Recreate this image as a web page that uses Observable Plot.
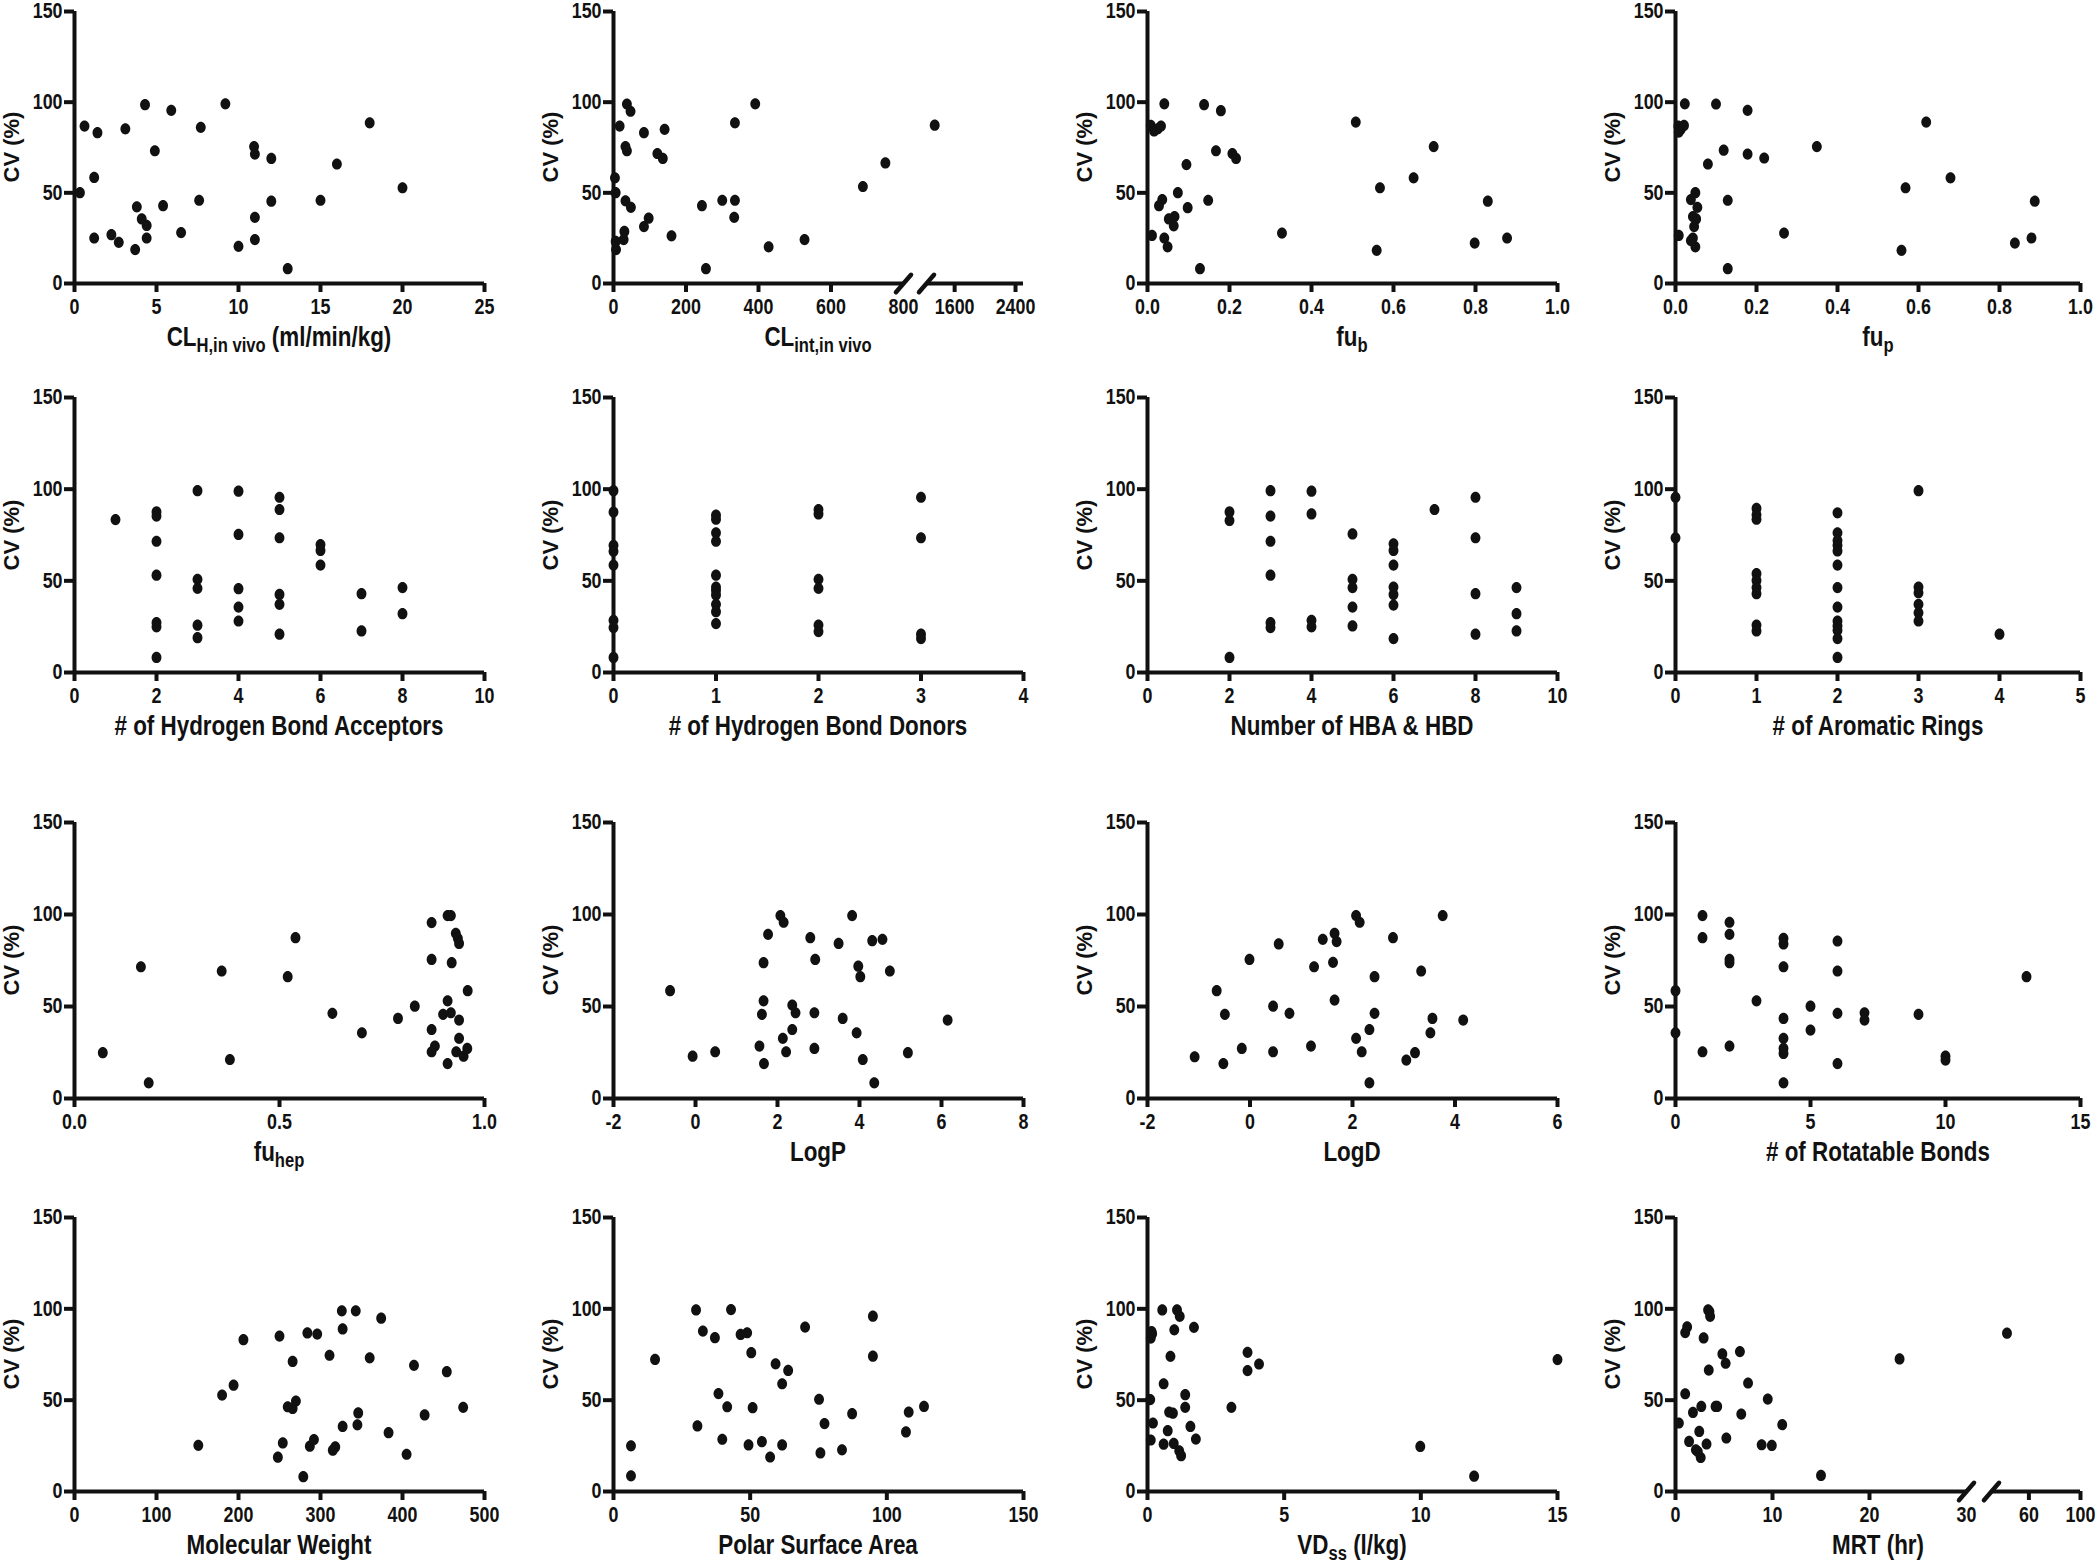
<!DOCTYPE html>
<html><head><meta charset="utf-8">
<script src="https://cdn.jsdelivr.net/npm/d3@7"></script>
<script src="https://cdn.jsdelivr.net/npm/@observablehq/plot@0.6"></script>
<style>
body{margin:0;background:#fff;}
#fig{position:relative;width:2100px;height:1563px;overflow:hidden;background:#fff;}
.panel{position:absolute;}
.panel svg{max-width:none !important;}
.xt{position:absolute;transform:translateX(-50%) scaleX(0.8);white-space:nowrap;font-family:"Liberation Sans",Arial,sans-serif;font-weight:bold;font-size:28px;line-height:30px;color:#111;}
.xt sub{font-size:0.74em;vertical-align:-0.3em;line-height:0;}
.yt{position:absolute;transform:translate(-50%,-50%) rotate(-90deg);white-space:nowrap;font-family:"Liberation Sans",Arial,sans-serif;font-weight:bold;font-size:22px;line-height:24px;color:#111;}
</style></head><body><div id="fig"></div>
<script>
// ---------- data ----------
const cvTicks = [0, 50, 100, 150];

const clH_x = [0.33,0.61,1.2,1.2,1.4,2.25,2.7,3.1,3.7,3.8,4.1,4.3,4.4,4.4,4.9,5.4,5.9,6.5,7.6,7.7,9.2,10.0,10.95,11.0,11.0,11.0,12.0,12.0,13.0,15.0,16.0,18.0,20.0];
const clH_cv = [50.1,86.8,58.5,25.1,83.2,26.9,22.7,85.3,18.7,42.3,35.6,98.6,32,25.1,73.2,42.9,95.5,28.1,45.9,86.1,99.1,20.5,75.5,71.4,36.5,24.2,69,45.4,8.2,45.9,65.9,88.6,52.8];

const clInt_x = [37,47,17,84,141,33,37,121,136,391,335,1338,750,688,4,6,33,48,97,84,160,30,28,6,7,244,300,335,333,428,527,255];
const clInt_cv = [99,95,86.8,83.2,85,75.5,73.2,71.7,69,99.1,88.6,87.3,66.5,53.5,58.3,50.1,45.6,42,36,31.4,26.3,28.7,24.2,23.2,18.7,42.9,45.9,45.9,36.5,20.2,24.2,8.2];

const fub_x = [0.041,0.138,0.179,0.008,0.016,0.025,0.033,0.508,0.167,0.207,0.216,0.698,0.095,0.649,0.567,0.074,0.036,0.028,0.148,0.098,0.83,0.066,0.052,0.064,0.328,0.011,0.041,0.049,0.877,0.798,0.559,0.128];
const fub_cv = [99.1,98.6,95.3,87.2,84.1,85.3,86.8,89,73.2,71.7,69,75.5,65.6,58.3,52.8,50.1,46.3,42.9,45.9,41.8,45.4,36.9,35.6,31.8,27.8,26.5,25.1,20.2,25.1,22.3,18.3,8.2];

const fup_x = [0.023,0.1,0.178,0.007,0.013,0.021,0.008,0.619,0.349,0.119,0.178,0.219,0.08,0.679,0.568,0.049,0.038,0.129,0.054,0.887,0.043,0.051,0.046,0.268,0.008,0.043,0.049,0.879,0.838,0.558,0.129,0.038];
const fup_cv = [99.1,99,95.5,86.8,85,87.2,83.5,89,75.5,73.5,71.4,69.2,65.9,58.3,52.8,50.1,46.3,45.9,42,45.4,36.9,35.6,31.4,27.8,26.5,25.1,20.2,25.1,22.3,18.3,8.2,23.7];

const hba_x = [1, 2,2,2,2,2,2,2, 3,3,3,3,3, 4,4,4,4,4, 5,5,5,5,5,5, 6,6,6, 7,7, 8,8];
const hba_cv = [83.4, 87.6,85.3,71.6,53.1,27.2,24.9,8.2, 99.2,50.8,45.9,25.8,19, 98.9,75.3,45.7,35.7,28.1, 95.6,88.9,73.5,42.6,37.2,20.9, 69.8,66.6,58.6, 43,22.7, 46.3,32.1];

const hbd_x = [0,0,0,0,0,0,0,0, 1,1,1,1,1,1,1,1,1,1,1, 2,2,2,2,2,2, 3,3,3,3];
const hbd_cv = [99.2,87.5,69.4,66.1,58.6,28.5,24.5,8.2, 85.8,83.6,76.2,71.6,53.1,46.6,44.8,42.3,37.2,33.2,26.7, 88.9,86.5,50.8,45.9,25.9,22.3, 95.6,73.5,20.9,18.5];

const hbah_x = [2,2,2, 3,3,3,3,3,3, 4,4,4,4, 5,5,5,5,5, 6,6,6,6,6,6,6, 7, 8,8,8,8, 9,9,9];
const hbah_cv = [87.6,82.9,8.2, 99.2,85.3,71.6,53.1,27.2,24.5, 98.9,86.5,28.5,24.9, 75.6,50.8,46.3,35.7,25.4, 70.2,66.6,58.6,46.6,42.6,36.8,18.5, 88.9, 95.6,73.5,43,20.9, 46.3,32.1,22.7];

const ring_x = [0,0, 1,1,1,1,1,1,1,1,1, 2,2,2,2,2,2,2,2,2,2,2,2,2, 3,3,3,3,3,3, 4];
const ring_cv = [95.6,73.5, 89.5,86,83.6,53.9,50.2,46.3,43,25.9,22.7, 87.1,76.2,72,69.4,66.3,58.6,46.3,35.7,28.1,25.4,23,18.5,8.2, 99.2,46.6,43.5,37.2,32.6,28.1, 20.9];

const fuhep_x = [0.069,0.162,0.181,0.359,0.379,0.52,0.539,0.629,0.701,0.789,0.83,0.871,0.871,0.871,0.871,0.879,0.91,0.918,0.91,0.899,0.918,0.92,0.91,0.93,0.935,0.938,0.938,0.938,0.931,0.949,0.958,0.959];
const fuhep_cv = [24.9,71.6,8.5,69.3,21.2,66.2,87.4,46.3,35.7,43.5,50.2,95.6,75.6,37.5,25.4,28.5,99.4,99.4,53.1,45.7,46.6,73.8,19,89.8,87.1,84.3,42.6,32.7,25.4,23,27.2,58.6];

const logp_x = [-0.62,-0.07,0.48,1.56,1.66,1.66,1.62,1.67,1.77,2.07,2.15,2.13,2.21,2.36,2.44,2.36,2.8,2.92,2.9,2.9,3.49,3.59,3.82,3.97,4.02,3.93,4.08,4.31,4.56,4.36,4.74,5.18,6.15];
const logp_cv = [58.6,23,25.4,28.5,73.8,53.1,45.7,19,89.2,99.4,95.8,32.7,25.4,50.8,46.6,37.5,87.4,75.6,46.6,27.2,84.3,43.5,99.4,71.9,66.2,35.7,21.2,85.8,86.5,8.5,69.3,24.9,42.6];

const logd_x = [-1.08,-0.65,-0.49,-0.52,-0.16,-0.01,0.45,0.45,0.56,0.77,1.19,1.25,1.42,1.62,1.65,1.69,1.65,2.07,2.14,2.07,2.18,2.33,2.33,2.43,2.43,2.79,3.05,3.22,3.34,3.52,3.56,3.76,4.16];
const logd_cv = [22.7,58.6,45.7,19,27.2,75.6,50.2,25.4,84,46.3,28.5,71.6,86.5,74,89.8,85.3,53.5,99.4,95.8,32.7,25.4,37.5,8.5,66.2,46.3,87.4,20.9,24.9,69.3,35.7,43.5,99.4,42.6];

const rot_x = [0,0,1,1,1,2,2,2,2,2,3,4,4,4,4,4,4,4,4,5,5,6,6,6,6,7,7,9,10,10,13];
const rot_cv = [58.6,35.7,99.4,87.4,25.4,95.8,89.2,75.6,73.8,28.5,53.1,87.1,84,71.6,43.5,32.7,27.2,24.5,8.5,50.2,37.2,85.6,69.3,46.3,19,46.6,42.6,45.7,23,20.9,66.2];

const mw_x = [151,180,194,206,248,250,254,260,266,266,270,279,284,296,287,292,311,315,318,326,327,327,343,346,345,360,374,383,405,414,427,454,474];
const mw_cv = [25.3,52.8,58.2,83.1,18.8,85.1,26.6,46.4,45.5,71.2,49.5,8.1,86.8,86.2,24.8,28.4,74.6,22.6,24.4,98.9,89,35.6,98.9,43,36.5,73.2,94.9,32.2,20.4,69.1,41.9,65.6,46.1];

const psa_x = [6.4,6.4,15.2,30.2,30.7,32.7,37.1,38.4,39.8,41.6,43,46.5,48.9,49.4,50.4,50.9,54.3,57.3,59.3,61.7,61.7,63.9,70.1,75.2,75.7,77.2,83.6,87.3,94.9,94.9,107,108,113.6];
const psa_cv = [25,8.6,72.3,99.4,35.9,87.8,84.2,53.6,28.6,46.4,99.6,86,86.9,25.5,76,45.9,27.3,18.9,69.9,59,25.5,66.3,90,50.5,21.1,37.2,22.8,42.6,96,74.1,32.6,43.5,46.6];

const vd_x = [0.12,0.1,0.17,0.12,0.2,0.54,0.59,0.59,0.74,0.84,0.79,0.93,0.98,0.96,1.08,1.18,1.16,1.23,1.38,1.38,1.57,1.7,1.77,3.07,3.66,3.66,4.08,9.98,11.95,15.0,0.15];
const vd_cv = [28.2,50.3,86.3,84,37.5,99.4,59,25.9,33.3,74,43.5,42.9,88.5,26.3,99.4,95.9,22.3,19.6,53,46.1,35.6,89.9,28.7,46.1,76.2,66.2,69.8,24.7,8.4,72.2,87.5];

const mrt_x = [0.35,1.0,1.0,1.2,1.4,1.8,2.1,2.45,2.66,2.6,2.3,3.2,2.9,3.36,3.5,3.57,3.43,4.13,4.3,4.83,5.17,5.24,6.64,6.78,7.48,8.88,9.51,9.93,11,15.0,23.1,43];
const mrt_cv = [37.5,53.5,87,90.1,27.4,43.3,22.8,32.9,46.6,18.6,21.9,26,84.1,99.4,98.5,95.9,66.5,46.6,46.6,75.3,70.2,29.3,76.6,42.4,59.4,25.6,50.6,25.2,36.6,8.8,72.6,86.7];

// tick labels
const ticks25 = [0,5,10,15,20,25];
const clIntTicks = [0,200,400,600,800,1600,2400];
const clIntTickMarks = [0,200,400,600,1600,2400];
const fracTicks = [0,0.2,0.4,0.6,0.8,1.0];
const ticks10 = [0,2,4,6,8,10];
const ticks4 = [0,1,2,3,4];
const ticks5 = [0,1,2,3,4,5];
const halfTicks = [0,0.5,1.0];
const logpTicks = [-2,0,2,4,6,8];
const logdTicks = [-2,0,2,4,6];
const ticks15 = [0,5,10,15];
const mwTicks = [0,100,200,300,400,500];
const psaTicks = [0,50,100,150];
const mrtTicks = [0,10,20,30,60,100];
const mrtTickMarks = [0,10,20,60,100];

// ---------- layout ----------
const INK = "#111";
const TF = '"Liberation Sans",Arial,sans-serif';
const SQ = 0.83; // horizontal squeeze of the original figure's tick labels
const ML = 70, MR = 25, MT = 18, MB = 50;
const colX = [74, 613, 1147, 1675];
const colW = [410, 410, 410, 405];
const rowTop = [11, 397, 822, 1217];
const rowH = [272, 275, 276, 274];
const f1 = d => d.toFixed(1);
const fi = d => String(d);

const panels = [
  {x: clH_x, cv: clH_cv, domain: [0,25], ticks: ticks25, fmt: fi, title: "CL<sub>H,in vivo</sub> (ml/min/kg)"},
  {x: clInt_x, cv: clInt_cv, domain: [0,800,1230,2505], range: [0,290,313,410], segments: [[0,800],[1230,2505]], breaks: [800,1230], ticks: clIntTicks, tickMarks: clIntTickMarks, fmt: fi, title: "CL<sub>int,in vivo</sub>"},
  {x: fub_x, cv: fub_cv, domain: [0,1], ticks: fracTicks, fmt: f1, title: "fu<sub>b</sub>"},
  {x: fup_x, cv: fup_cv, domain: [0,1], ticks: fracTicks, fmt: f1, title: "fu<sub>p</sub>"},
  {x: hba_x, cv: hba_cv, domain: [0,10], ticks: ticks10, fmt: fi, title: "# of Hydrogen Bond Acceptors"},
  {x: hbd_x, cv: hbd_cv, domain: [0,4], ticks: ticks4, fmt: fi, title: "# of Hydrogen Bond Donors"},
  {x: hbah_x, cv: hbah_cv, domain: [0,10], ticks: ticks10, fmt: fi, title: "Number of HBA &amp; HBD"},
  {x: ring_x, cv: ring_cv, domain: [0,5], ticks: ticks5, fmt: fi, title: "# of Aromatic Rings"},
  {x: fuhep_x, cv: fuhep_cv, domain: [0,1], ticks: halfTicks, fmt: f1, title: "fu<sub>hep</sub>"},
  {x: logp_x, cv: logp_cv, domain: [-2,8], ticks: logpTicks, fmt: fi, title: "LogP"},
  {x: logd_x, cv: logd_cv, domain: [-2,6], ticks: logdTicks, fmt: fi, title: "LogD"},
  {x: rot_x, cv: rot_cv, domain: [0,15], ticks: ticks15, fmt: fi, title: "# of Rotatable Bonds"},
  {x: mw_x, cv: mw_cv, domain: [0,500], ticks: mwTicks, fmt: fi, title: "Molecular Weight"},
  {x: psa_x, cv: psa_cv, domain: [0,150], ticks: psaTicks, fmt: fi, title: "Polar Surface Area"},
  {x: vd_x, cv: vd_cv, domain: [0,15], ticks: ticks15, fmt: fi, title: "VD<sub>ss</sub> (l/kg)"},
  {x: mrt_x, cv: mrt_cv, domain: [0,30,31,100], range: [0,291,316,405], segments: [[0,30],[31,100]], breaks: [30,31], ticks: mrtTicks, tickMarks: mrtTickMarks, fmt: fi, title: "MRT (hr)"}
];

// axis-break slash and slightly squeezed dot, matching the original figure
const slash = {draw(context, l) { context.moveTo(0, 0); context.lineTo(0, -l); }};
const ovalDot = {draw(context, size) {
  const ry = Math.sqrt(size / Math.PI), rx = ry * 0.88, k = 0.5523;
  context.moveTo(rx, 0);
  context.bezierCurveTo(rx, k * ry, k * rx, ry, 0, ry);
  context.bezierCurveTo(-k * rx, ry, -rx, k * ry, -rx, 0);
  context.bezierCurveTo(-rx, -k * ry, -k * rx, -ry, 0, -ry);
  context.bezierCurveTo(k * rx, -ry, rx, -k * ry, rx, 0);
  context.closePath();
}};
const textOpts = {fontSize: 21.5, fontFamily: TF, fontWeight: "bold", fill: INK};

function makePanel(p, H, W) {
  // broken axes: a two-segment (piecewise linear) mapping onto the frame
  const bx = p.range ? d3.scaleLinear().domain(p.domain).range(p.range) : null;
  const X = bx ? (v => bx(v)) : (v => v);
  const unX = bx ? (v => +bx.invert(v).toFixed(6)) : (v => v);
  const xDomain = bx ? [0, W] : p.domain;
  const data = p.x.map((x, i) => ({x: X(x), cv: p.cv[i]}));
  const segs = (p.segments || [p.domain]).map(s => s.map(X));
  const marks = [
    Plot.axisY({ticks: cvTicks, tickSize: 10, tickPadding: 2, strokeWidth: 4, stroke: INK, label: null, tickFormat: fi, ...textOpts}),
    Plot.axisX({ticks: (p.tickMarks || p.ticks).map(X), tickSize: 9, strokeWidth: 4, stroke: INK, tickFormat: () => "", label: null}),
    Plot.axisX({ticks: p.ticks.map(X), tickSize: 0, tickPadding: 15, tickFormat: v => p.fmt(unX(v)), label: null, ...textOpts}),
    Plot.ruleX([xDomain[0]], {strokeWidth: 4, stroke: INK}),
    Plot.ruleY(segs, {y: 0, x1: d => d[0], x2: d => d[1], strokeWidth: 4, stroke: INK})
  ];
  if (p.breaks) marks.push(Plot.vector(p.breaks.map(X), {x: d => d, y: 0, length: 23, rotate: 41, anchor: "middle", shape: slash, strokeWidth: 4.5, stroke: INK}));
  marks.push(Plot.dot(data, {x: "x", y: "cv", r: 5.6, symbol: ovalDot, fill: INK, stroke: "none"}));
  return Plot.plot({
    width: ML + W + MR, height: MT + H + MB,
    marginLeft: ML, marginRight: MR, marginTop: MT, marginBottom: MB,
    x: {domain: xDomain, range: [ML, ML + W]}, y: {domain: [0, 150]},
    style: {background: "transparent", overflow: "visible", maxWidth: "none", fontFamily: TF, fontWeight: "bold", fontSize: "21.5px"},
    marks
  });
}

const fig = document.getElementById("fig");
panels.forEach((p, i) => {
  const c = i % 4, r = Math.floor(i / 4), H = rowH[r], W = colW[c];
  const wrap = document.createElement("div");
  wrap.className = "panel";
  wrap.style.left = (colX[c] - ML) + "px";
  wrap.style.top = (rowTop[r] - MT) + "px";
  wrap.style.width = (ML + W + MR) + "px";
  const svg = makePanel(p, H, W);
  wrap.appendChild(svg);
  fig.appendChild(wrap);
  // condensed look of the original tick labels
  svg.querySelectorAll("text").forEach(t => {
    const w = t.getComputedTextLength();
    if (w > 0) { t.setAttribute("textLength", (w * SQ).toFixed(2)); t.setAttribute("lengthAdjust", "spacingAndGlyphs"); }
  });
  const xt = document.createElement("div");
  xt.className = "xt";
  xt.innerHTML = p.title;
  xt.style.left = (colX[c] + W / 2) + "px";
  xt.style.top = (rowTop[r] + H + 39) + "px";
  fig.appendChild(xt);
  const yt = document.createElement("div");
  yt.className = "yt";
  yt.textContent = "CV (%)";
  yt.style.left = (colX[c] - 62) + "px";
  yt.style.top = (rowTop[r] + H / 2) + "px";
  fig.appendChild(yt);
});
</script></body></html>
